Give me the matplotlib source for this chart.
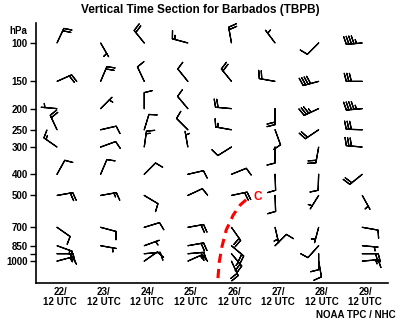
import numpy as np
import matplotlib
matplotlib.use("Agg")
import matplotlib.pyplot as plt
from matplotlib.ticker import FixedLocator, FixedFormatter, NullLocator

plt.rcParams['font.family'] = ['Liberation Sans', 'DejaVu Sans']
plt.rcParams['font.weight'] = 'bold'

# sounding times (day of month, 12 UTC)
days = [22, 23, 24, 25, 26, 27, 28, 29]
day_labels = ['22/\n12 UTC', '23/\n12 UTC', '24/\n12 UTC', '25/\n12 UTC',
              '26/\n12 UTC', '27/\n12 UTC', '28/\n12 UTC', '29/\n12 UTC']

# pressure levels used for the y axis
yticks = [100, 150, 200, 250, 300, 400, 500, 700, 850, 925, 1000]
ytick_labels = ['100', '150', '200', '250', '300', '400', '500', '700', '850', '', '1000']

# winds per sounding: pressure (hPa), direction (deg), speed (kt)
pres_22 = [100, 150, 200, 250, 300, 400, 500, 700, 850, 925, 1000]
wdir_22 = [25, 66, 275, 335, 305, 29, 80, 125, 110, 90, 75]
wspd_22 = [20, 20, 5, 20, 15, 10, 20, 10, 15, 20, 15]

pres_23 = [100, 150, 200, 250, 300, 400, 500, 700, 850]
wdir_23 = [150, 23, 45, 77, 70, 23, 80, 105, 100]
wspd_23 = [5, 20, 5, 10, 10, 10, 15, 10, 5]

pres_24 = [100, 150, 200, 250, 300, 400, 500, 700, 850, 925, 1000]
wdir_24 = [321, 335, 0, 17, 8, 45, 121, 73, 70, 85, 55]
wspd_24 = [20, 10, 10, 10, 15, 10, 10, 10, 5, 10, 10]

pres_25 = [100, 150, 200, 250, 300, 400, 500, 700, 850, 925, 1000]
wdir_25 = [285, 321, 320, 315, 350, 77, 65, 80, 80, 85, 66]
wspd_25 = [15, 10, 10, 10, 5, 10, 10, 20, 20, 20, 15]

pres_26 = [100, 150, 200, 250, 300, 400, 500, 700, 850, 925, 1000]
wdir_26 = [350, 321, 275, 280, 238, 68, 78, 145, 130, 140, 155]
wspd_26 = [20, 20, 20, 15, 10, 10, 20, 20, 20, 25, 20]

pres_27 = [100, 150, 200, 250, 300, 400, 500, 700, 850]
wdir_27 = [323, 280, 180, 160, 180, 178, 178, 167, 45]
wspd_27 = [5, 20, 20, 10, 10, 10, 10, 5, 10]

pres_28 = [100, 150, 200, 250, 300, 400, 500, 700, 850, 925, 1000]
wdir_28 = [225, 255, 245, 236, 190, 182, 212, 195, 222, 180, 170]
wspd_28 = [10, 40, 35, 20, 20, 10, 5, 5, 10, 10, 10]

pres_29 = [100, 150, 200, 250, 300, 400, 500, 700, 850, 925, 1000]
wdir_29 = [265, 270, 265, 272, 275, 231, 151, 100, 95, 90, 85]
wspd_29 = [45, 30, 45, 30, 30, 20, 5, 10, 5, 20, 15]

# trough axis (red dashed line) and its label
trough_day = [25.69, 25.72, 25.78, 25.88, 26.04, 26.20, 26.38]
trough_pres = [1196, 1010, 862, 720, 615, 553, 514]
trough_label = 'C'
trough_label_pos = (26.61, 508)

soundings = [
    (22, pres_22, wdir_22, wspd_22),
    (23, pres_23, wdir_23, wspd_23),
    (24, pres_24, wdir_24, wspd_24),
    (25, pres_25, wdir_25, wspd_25),
    (26, pres_26, wdir_26, wspd_26),
    (27, pres_27, wdir_27, wspd_27),
    (28, pres_28, wdir_28, wspd_28),
    (29, pres_29, wdir_29, wspd_29),
]

fig = plt.figure(figsize=(4, 3.22), dpi=100)
ax = fig.add_axes([0.09, 0.1211, 0.88, 0.8075])

for day, p, wd, ws in soundings:
    p = np.array(p, dtype=float)
    rad = np.deg2rad(wd)
    ws = np.array(ws, dtype=float)
    u = -ws * np.sin(rad)   # met convention -> u, v
    v = -ws * np.cos(rad)
    ax.barbs(np.full(len(p), day), p, u, v, length=4.8, linewidth=0.9,
             color='black', sizes=dict(height=0.5, spacing=0.16))

# dashed trough line
ax.plot(trough_day, trough_pres, color='red', lw=2.2, dashes=(3, 2))
ax.text(trough_label_pos[0], trough_label_pos[1], trough_label, color='red',
        fontsize=8.5, fontweight='bold', ha='center', va='center')

ax.set_yscale('log')
ax.set_ylim(1260, 81)
ax.set_xlim(21.518, 29.59)
ax.yaxis.set_major_locator(FixedLocator(yticks))
ax.yaxis.set_major_formatter(FixedFormatter(ytick_labels))
ax.yaxis.set_minor_locator(NullLocator())
ax.tick_params(axis='y', direction='out', length=4, width=1, labelsize=7, pad=2)

ax.set_xticks([d + 0.07 for d in days])
ax.set_xticklabels(day_labels)
ax.tick_params(axis='x', length=0, labelsize=7, pad=3)
for lbl in ax.get_xticklabels():
    lbl.set_linespacing(1.0)

ax.spines['top'].set_visible(False)
ax.spines['right'].set_visible(False)
ax.spines['left'].set_linewidth(1.2)
ax.spines['bottom'].set_linewidth(1.2)

fig.text(0.5, 1 - 10 / 322, 'Vertical Time Section for Barbados (TBPB)',
         ha='center', va='center', fontsize=8.5, fontweight='bold')
fig.text(18 / 400, 1 - 31 / 322, 'hPa', ha='center', va='center', fontsize=7, fontweight='bold')
fig.text(356 / 400, 1 - 315 / 322, 'NOAA TPC / NHC', ha='center', va='center',
         fontsize=7, fontweight='bold')

fig.savefig('out.png', dpi=100)
